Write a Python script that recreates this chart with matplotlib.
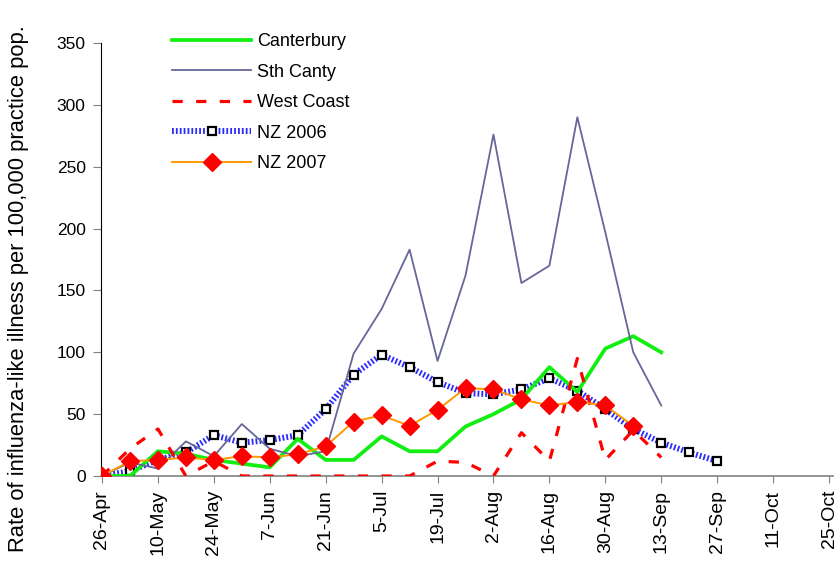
"""
plot.py - weekly influenza-like illness rates, Canterbury vs NZ (2006/2007)
output: out.png (840x561)
"""

import numpy as np
import pandas as pd
import matplotlib
matplotlib.use('Agg')
import matplotlib.pyplot as plt
import matplotlib.dates as mdates

plt.rcParams['font.family'] = ['Liberation Sans', 'DejaVu Sans']

# weekly points starting 26-Apr
START = '2007-04-26'
N_WEEKS = 27  # axis runs 26-Apr .. 25-Oct

# values (rate per 100,000 practice pop.)
canterbury = [0, 0, 20, 18, 13, 10, 7, 30, 13, 13, 32, 20, 20, 40, 50, 62,
              88, 68, 103, 113, 100]
sth_canty = [0, 11, 6, 28, 16, 42, 22, 16, 20, 99, 135, 183, 93, 162, 276,
             156, 170, 290, 197, 100, 57]
west_coast = [0, 22, 38, 0, 12, 0, 0, 0, 0, 0, 0, 0, 12, 11, 0, 35, 12, 95,
              13, 37, 15]
nz_2006 = [0, 4, 13, 19, 33, 27, 29, 33, 54, 82, 98, 88, 76, 67, 66, 70, 79,
           69, 54, 38, 27, 19, 12]
nz_2007 = [0, 12, 13, 15, 13, 16, 15, 17.5, 24, 44, 49, 40.5, 53.5, 71, 70,
           62, 57, 60, 57, 40.5]

series_names = ['Canterbury', 'Sth Canty', 'West Coast', 'NZ 2006', 'NZ 2007']


def main():
    weeks = pd.date_range(START, periods=N_WEEKS, freq='7D')

    fig = plt.figure(figsize=(8.4, 5.61), dpi=100)
    ax = fig.add_axes([101 / 840, 85 / 561, (833 - 101) / 840, (476 - 43) / 561])

    # NZ 2006 first so the other series sit on top of the band
    h06, = ax.plot(weeks[:len(nz_2006)], nz_2006, color='#2a2aff', lw=4.3,
                   dashes=(0.3, 0.35), marker='s', ms=5.5, mfc='white',
                   mec='black', mew=1.6, zorder=2, label=series_names[3])
    hc, = ax.plot(weeks[:len(canterbury)], canterbury, color='#11ee11', lw=2.7,
                  zorder=3, label=series_names[0])
    hs, = ax.plot(weeks[:len(sth_canty)], sth_canty, color='#666699', lw=1.3,
                  zorder=3, label=series_names[1])
    hw, = ax.plot(weeks[:len(west_coast)], west_coast, color='#ff0000', lw=2.3,
                  dashes=(3.2, 4.2), zorder=3, label=series_names[2])
    h07, = ax.plot(weeks[:len(nz_2007)], nz_2007, color='#ff9900', lw=1.4,
                   marker='D', ms=9, mfc='#ff0000', mec='#ff0000', zorder=4,
                   label=series_names[4])

    # axes
    day = pd.Timedelta(days=1)
    ax.set_xlim(weeks[0] - 0.25 * day, weeks[-1] + 1.0 * day)
    ax.set_ylim(0, 350)
    ax.set_yticks(np.arange(0, 351, 50))
    ax.set_xticks(weeks[::2])
    ax.xaxis.set_major_formatter(mdates.DateFormatter('%-d-%b'))
    ax.tick_params(axis='x', labelrotation=90, labelsize=14, length=5,
                   color='#808080', pad=5)
    ax.tick_params(axis='y', labelsize=12.5, length=6, color='#808080', pad=5)
    for lab in ax.get_xticklabels():
        lab.set_va('top')

    for side in ['top', 'right']:
        ax.spines[side].set_visible(False)
    ax.spines['left'].set_color('black')
    ax.spines['bottom'].set_color('#808080')
    ax.spines['bottom'].set_linewidth(1.2)

    fig.text(19 / 840, 1 - 289 / 561,
             'Rate of influenza-like illness per 100,000 practice pop.',
             rotation=90, ha='center', va='center', fontsize=15.8)

    ax.legend([hc, hs, hw, h06, h07], series_names, loc='upper left',
              bbox_to_anchor=(172 / 840, 1 - 33 / 561),
              bbox_transform=fig.transFigure, frameon=False, fontsize=13,
              handlelength=4.4, handletextpad=0.3, labelspacing=0.75,
              borderpad=0, borderaxespad=0, numpoints=1)

    fig.savefig('out.png', dpi=100)
    plt.close(fig)


if __name__ == '__main__':
    main()
